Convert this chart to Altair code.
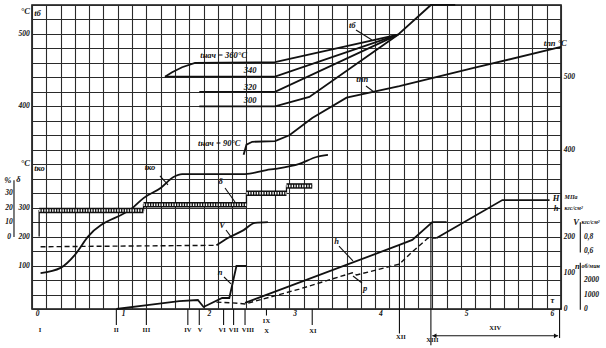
import altair as alt
import pandas as pd

# ---------------- axis definitions: name -> (grid row of base, base value, value per grid row)
AXES = {
    "tb":  (14, 400, 20),     # left upper, °C
    "tpp": (16, 500, 20),     # right upper, °C
    "tko": (5, 200, 50),      # left middle, °C
    "dlt": (5, 0, 10),        # left middle, %
    "V":   (5, 0.8, 0.2),     # right, kgs/cm2
    "p":   (0, 0, 40),        # right lower
    "n":   (0, 0, 1000),      # right lower, rpm
    "row": (0, 0, 1),         # plain grid rows (annotations)
}

# ---------------- series: time in minutes, value on its own axis
tb360_t = [93, 98, 105, 114, 170, 256, 279, 296]
tb360_v = [441, 447, 454, 460, 461, 499, 540, 540]
tb340_t = [93, 170, 256]
tb340_v = [441, 441, 499]
tb320_t = [117, 170, 256]
tb320_v = [420, 420, 499]
tb300_t = [117, 170, 194, 256]
tb300_v = [400, 400, 413, 499]

tpp_t = [148, 150, 154, 170, 180, 196, 220, 257, 309, 370]
tpp_v = [393, 407, 411, 412, 420, 444, 472, 488, 513, 542]

tko_t = [6, 20, 30, 39, 71, 78, 90, 99, 105, 149, 164, 170, 187, 199, 207]
tko_v = [74, 92, 137, 199, 302, 333, 368, 406, 416, 416, 430, 434, 451, 475, 482]

dlt_t = [5, 5, 78, 78, 150, 150, 178, 178, 196]
dlt_v = [0, 18, 18, 22, 22, 30, 30, 35, 35]
dlt_bar_t = [5, 78, 150, 178]
dlt_bar_t2 = [78, 150, 178, 196]
dlt_bar_v = [18, 22, 30, 35]

vL_t = [6, 129]
vL_v = [0.66, 0.68]
vR_t = [129, 137, 148, 156, 165]
vR_v = [0.68, 0.78, 0.89, 0.99, 1.0]

n_t = [59, 82, 103, 116, 120, 133, 138, 143, 150]
n_v = [0, 280, 550, 620, 140, 760, 760, 2970, 2970]

h_t = [149, 257, 266, 280, 290]
h_v = [17, 177, 191, 240, 240]

pD_t = [129, 140, 149, 187, 224, 227, 257, 266, 277, 283]
pD_v = [19, 17, 14, 55, 100, 94, 124, 158, 196, 196]
pS_t = [283, 329, 362]
pS_v = [196, 301, 301]

SERIES = [
    ("tb360", "tb", "solid", False, tb360_t, tb360_v),
    ("tb340", "tb", "solid", False, tb340_t, tb340_v),
    ("tb320", "tb", "solid", False, tb320_t, tb320_v),
    ("tb300", "tb", "solid", False, tb300_t, tb300_v),
    ("tpp", "tpp", "solid", False, tpp_t, tpp_v),
    ("tko", "tko", "solid", True, tko_t, tko_v),
    ("dlt", "dlt", "thin", False, dlt_t, dlt_v),
    ("vL", "V", "dash", False, vL_t, vL_v),
    ("vR", "V", "solid", True, vR_t, vR_v),
    ("n", "n", "solid", False, n_t, n_v),
    ("h", "p", "solid", False, h_t, h_v),
    ("pD", "p", "dash", False, pD_t, pD_v),
    ("pS", "p", "solid", False, pS_t, pS_v),
]

# ---------------- tick labels of the several value axes
TICKS = [
    # text, axis, value, time position, align
    ("500", "tb", 500, -1.5, "right"), ("400", "tb", 400, -1.5, "right"),
    ("300", "tko", 300, -1.5, "right"), ("200", "tko", 200, -1.5, "right"),
    ("100", "tko", 100, -1.5, "right"),
    ("30", "dlt", 30, -16, "center"), ("20", "dlt", 20, -16, "center"),
    ("10", "dlt", 10, -16, "center"), ("0", "dlt", 0, -16, "center"),
    ("500", "tpp", 500, 372, "left"), ("400", "tpp", 400, 372, "left"),
    ("200", "p", 200, 372, "left"), ("100", "p", 100, 372, "left"), ("0", "p", 0, 372, "left"),
    ("0,8", "V", 0.8, 386, "left"), ("0,6", "V", 0.6, 386, "left"),
    ("2000", "n", 2000, 386, "left"), ("1000", "n", 1000, 386, "left"), ("0", "n", 0, 386, "left"),
]
hours = [0, 1, 2, 3, 4, 5, 6]
roman = [("I", 5.6, -1.45), ("II", 59, -1.45), ("III", 80, -1.45), ("IV", 109, -1.45),
         ("V", 117.5, -1.45), ("VI", 133, -1.45), ("VII", 141, -1.45), ("VIII", 151, -1.45),
         ("IX", 164, -0.8), ("X", 164, -1.5), ("XI", 196.5, -1.5), ("XII", 258, -1.95),
         ("XIII", 280, -2.15), ("XIV", 324, -1.3)]

NOTES = [
    ("tнач = 360°C", 134, 17.55, "center"), ("340", 152.5, 16.5, "center"),
    ("320", 152.5, 15.35, "center"), ("300", 152.5, 14.45, "center"),
    ("tб", 224, 19.65, "center"), ("tпп", 231, 15.9, "center"),
    ("tнач = 90°C", 131, 11.45, "center"), ("tко", 82.5, 9.8, "center"),
    ("δ", 132, 8.85, "center"), ("V", 133, 5.8, "center"), ("n", 131.5, 2.55, "center"),
    ("h", 213, 4.7, "center"), ("р", 233, 1.45, "center"), ("τ", 364, 0.65, "center"),
    ("tпп °C", 366, 18.4, "center"),
    ("°C", -1.5, 20.6, "right"), ("tб", 1.5, 20.45, "left"),
    ("°C", -1.5, 10.1, "right"), ("tко", 1.5, 9.75, "left"),
    ("%", -17, 8.9, "center"), ("δ", -9.5, 9.0, "center"),
    ("H", 366.5, 7.7, "center"), ("h", 366.5, 6.98, "center"),
    ("V", 380.5, 6.0, "center"), ("n", 381.5, 2.97, "center"),
]
UNITS = [
    ("МПа", 372.5, 7.75), ("кгс/см²", 372.5, 6.98),
    ("кгс/см²", 384.3, 6.0), ("об/мин", 384.3, 2.97),
]

# rules: leaders, marker ticks, brackets (time, time2, row, row2)
RULES = [
    (226.6, 237.8, 19.27, 18.58), (233.6, 239.2, 15.40, 14.99), (89.5, 95.1, 9.19, 8.57),
    (135, 142, 8.36, 7.39), (135.7, 139.9, 5.46, 4.90), (134.3, 139.2, 2.21, 1.73),
    (214.7, 224.5, 4.35, 3.32), (230.8, 224.5, 1.80, 2.28),
    (59, 59, 0, -1.1), (80, 80, 0, -1.1), (109, 109, 0, -1.1), (117, 117, 0, -1.1),
    (134, 134, 0, -1.1), (141, 141, 0, -1.1), (149, 149, 0, -1.1), (164, 164, 0, -0.45),
    (196, 196, 0, -1.1), (257, 257, 4.42, -1.7), (279, 279, 6.0, -2.5), (369, 369, 0, -2.0),
    (280, 368, -1.85, -1.85),
    (-12.6, -12.6, 8.9, 4.97), (383.5, 383.5, 6.0, 3.9), (383.5, 383.5, 3.2, -0.05),
]

# ---------------- build tables
rows = []
for name, ax, style, smooth, ts, vs in SERIES:
    off, base, per = AXES[ax]
    for i, (t, v) in enumerate(zip(ts, vs)):
        rows.append(dict(s=name, i=i, t=t, v=v, off=off, base=base, per=per,
                         style=style, smooth=smooth))
lines = pd.DataFrame(rows)

txt = []
for text, ax, v, t, al in TICKS:
    off, base, per = AXES[ax]
    txt.append(dict(text=text, t=t, v=v, off=off, base=base, per=per, al=al, kind="tick"))
for h in hours:
    txt.append(dict(text=str(h), t=h * 60 + 4, v=-0.37, off=0, base=0, per=1, al="center", kind="tick"))
for text, t, r in roman:
    txt.append(dict(text=text, t=t, v=r, off=0, base=0, per=1, al="center", kind="roman"))
for text, t, r, al in NOTES:
    txt.append(dict(text=text, t=t, v=r, off=0, base=0, per=1, al=al, kind="note"))
for text, t, r in UNITS:
    txt.append(dict(text=text, t=t, v=r, off=0, base=0, per=1, al="left", kind="unit"))
texts = pd.DataFrame(txt)

off, base, per = AXES["dlt"]
bars = pd.DataFrame(dict(t=dlt_bar_t, t2=dlt_bar_t2, v=dlt_bar_v, off=off, base=base, per=per))
rules = pd.DataFrame(RULES, columns=["t", "t2", "r", "r2"])
heads = pd.DataFrame(dict(t=[281.5, 366.5], r=[-1.85, -1.85], shape=["triangle-left", "triangle-right"]))

ROW = "datum.off + (datum.v - datum.base) / datum.per"

xs = alt.Scale(domain=[0, 370], nice=False, zero=False)
ys = alt.Scale(domain=[0, 21], nice=False, zero=False)
xax = alt.Axis(values=list(range(0, 371, 10)), grid=True, labels=False, ticks=False,
               domain=False, title=None)
yax = alt.Axis(values=list(range(0, 22)), grid=True, labels=False, ticks=False,
               domain=False, title=None)

X = alt.X("t:Q", scale=xs, axis=xax)
Y = alt.Y("r:Q", scale=ys, axis=yax)
INK = "#111111"

layers = []
for style, smooth, width, dash in [("solid", False, 1.8, None), ("solid", True, 1.8, None),
                                   ("thin", False, 1.3, None), ("dash", False, 1.4, [5, 3])]:
    sub = lines[(lines["style"] == style) & (lines["smooth"] == smooth)]
    if len(sub) == 0:
        continue
    kw = dict(color=INK, strokeWidth=width, interpolate="monotone" if smooth else "linear")
    if dash:
        kw["strokeDash"] = dash
    layers.append(alt.Chart(sub).transform_calculate(r=ROW).mark_line(**kw).encode(
        x=X, y=Y, detail="s:N", order="i:Q"))

bar_base = alt.Chart(bars).transform_calculate(r=ROW)
layers.append(bar_base.mark_rule(color=INK, strokeWidth=5.5, strokeCap="butt").encode(
    x=X, x2="t2:Q", y=Y))
layers.append(bar_base.mark_rule(color="white", strokeWidth=2.6, strokeCap="butt",
                                 strokeDash=[1.3, 1.3]).encode(x=X, x2="t2:Q", y=Y))

layers.append(alt.Chart(rules).mark_rule(color=INK, strokeWidth=1.1).encode(
    x=X, x2="t2:Q", y=Y, y2="r2:Q"))
layers.append(alt.Chart(heads).mark_point(filled=True, color=INK, size=22, opacity=1).encode(
    x=X, y=Y, shape=alt.Shape("shape:N", scale=None)))

FONT = "Liberation Serif"
for kind, size, italic, bold in [("tick", 7.5, True, True), ("roman", 6.5, False, True),
                                 ("note", 8.5, True, True), ("unit", 6, True, True)]:
    for al in ["left", "center", "right"]:
        sub = texts[(texts["kind"] == kind) & (texts["al"] == al)]
        if len(sub) == 0:
            continue
        kw = dict(font=FONT, fontSize=size, color=INK, align=al, baseline="middle",
                  fontWeight="bold" if bold else "normal")
        if italic:
            kw["fontStyle"] = "italic"
        layers.append(alt.Chart(sub).transform_calculate(r=ROW).mark_text(**kw).encode(
            x=X, y=Y, text="text:N"))

chart = alt.layer(*layers).properties(
    width=529, height=304,
    padding={"left": 32, "top": 5, "right": 45, "bottom": 39},
    autosize=alt.AutoSizeParams(type="none"),
    background="white",
).configure_view(stroke=INK, strokeWidth=1.6).configure_axis(
    gridColor="#2a2a2a", gridWidth=1.1, gridOpacity=1)

chart.save("out.html", embed_options={"renderer": "svg", "actions": False})
